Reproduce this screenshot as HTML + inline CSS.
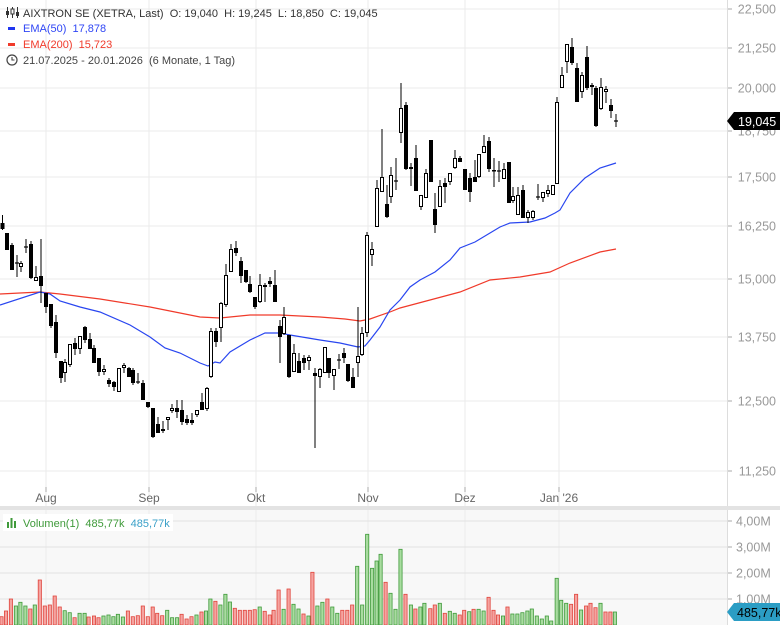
<!DOCTYPE html>
<html><head><meta charset="utf-8"><style>
html,body{margin:0;padding:0;background:#fff;}
body{width:780px;height:625px;overflow:hidden;font-family:"Liberation Sans",sans-serif;}
svg text{font-family:"Liberation Sans",sans-serif;white-space:pre;}
</style></head><body>
<svg id="s" width="780" height="625" xmlns="http://www.w3.org/2000/svg"></svg>
<script>
const S=document.getElementById('s');let h='';
h+='<rect x="0" y="510" width="727" height="115" fill="#f8f8f8"/>';
const ticks=[[22500,9],[21250,48],[20000,88],[18750,131],[17500,177],[16250,226],[15000,279],[13750,337],[12500,401],[11250,471]];
const fmt=v=>(v/1000).toFixed(3).replace('.',',');
ticks.forEach(t=>{h+=`<line x1="0" x2="727" y1="${t[1]}" y2="${t[1]}" stroke="#ebebeb"/>`;h+=`<line x1="727" x2="732" y1="${t[1]}" y2="${t[1]}" stroke="#aaa"/>`;
h+=`<text x="776" y="${t[1]+4.5}" font-size="12.5" fill="#999" text-anchor="end">${fmt(t[0])}</text>`;});
const months=[[46,'Aug'],[149,'Sep'],[256,'Okt'],[368,'Nov'],[465,'Dez'],[559,"Jan '26"]];
months.forEach(m=>{h+=`<line x1="${m[0]}" x2="${m[0]}" y1="0" y2="625" stroke="#ebebeb"/>`;h+=`<line x1="${m[0]}" x2="${m[0]}" y1="487" y2="492" stroke="#aaa"/>`;
h+=`<text x="${m[0]}" y="502" font-size="12" fill="#666" text-anchor="middle">${m[1]}</text>`;});
[[521,'4,00M'],[547,'3,00M'],[573,'2,00M'],[599,'1,00M']].forEach(t=>{h+=`<line x1="0" x2="727" y1="${t[0]}" y2="${t[0]}" stroke="#e2e2e2"/>`;h+=`<line x1="727" x2="732" y1="${t[0]}" y2="${t[0]}" stroke="#aaa"/>`;h+=`<text x="736" y="${t[0]+4.5}" font-size="12.5" fill="#999">${t[1]}</text>`;});
h+='<line x1="727.5" x2="727.5" y1="0" y2="625" stroke="#ddd"/>';
h+='<rect x="0" y="506" width="780" height="4" fill="#e3e3e3"/>';
const b=[[0,305],[40,292],[50,294],[60,301],[80,307],[100,312],[130,325],[150,337],[165,348],[180,353],[200,363],[208,366],[215,362],[220,363],[230,352],[250,340],[265,333],[280,333],[290,335],[320,340],[340,343],[358,347],[365,346],[370,340],[380,327],[390,310],[400,300],[410,287],[420,280],[435,272],[450,260],[460,248],[475,242],[490,233],[500,227],[510,223],[530,222],[545,218],[555,213],[560,210],[570,193],[585,178],[600,168],[616,163]];
const r=[[0,294],[40,292],[60,294],[100,299],[150,307],[200,317],[220,318],[250,315],[280,315],[320,317],[345,319],[360,321],[370,319],[390,312],[400,308],[430,300],[460,292],[490,280],[520,277],[550,272],[570,263],[600,252],[616,249]];
h+=`<polyline fill="none" stroke="#f03a2a" stroke-width="1.2" points="${r.map(p=>p.join(',')).join(' ')}"/>`;
h+=`<polyline fill="none" stroke="#2946f0" stroke-width="1.2" points="${b.map(p=>p.join(',')).join(' ')}"/>`;
const C=`2.5 f 223 229 215 230;7 f 233 250 233 250;12 f 245 270 243 270;17 c 263 263 255 277;21 h 263 267 261 272;26 c 247 247 239 253;31 f 244 278 241 279;36 h 277 281 266 281;41 f 276 286 239 303;46 f 293 307 293 313;51 f 304 326 304 328;56 f 322 353 315 358;61 f 361 378 361 383;65 h 362 373 359 382;70 h 344 365 344 367;75 f 343 349 338 355;80 h 336 349 336 354;85 f 327 340 326 343;90 f 339 349 333 349;94 f 348 363 345 363;99 f 358 372 358 376;104 h 369 372 365 375;109 f 380 384 378 387;114 f 382 387 381 391;119 h 368 392 368 392;124 h 365 368 363 373;129 f 368 377 367 377;133 f 370 383 368 385;138 c 382 382 373 384;143 f 383 400 380 400;148 f 402 407 402 408;153 f 408 437 408 438;158 f 424 433 417 433;163 h 429 431 421 433;168 h 417 420 417 430;172 h 408 411 404 413;177 f 408 412 400 418;182 f 410 422 400 425;187 f 419 423 415 425;192 f 420 423 413 425;197 h 410 415 410 417;202 f 402 410 393 410;207 h 388 409 387 411;211 h 331 377 328 378;216 f 331 342 328 347;221 h 303 328 302 342;226 h 275 305 264 307;231 h 249 272 244 272;236 f 248 253 241 256;241 f 261 276 257 283;246 f 270 282 270 283;250 f 284 292 276 293;255 f 297 307 297 309;260 h 285 302 274 303;265 f 285 287 283 302;270 f 281 284 277 287;275 f 285 302 270 302;280 f 326 337 320 363;284 h 317 334 307 335;289 f 335 377 335 378;294 h 353 372 344 372;299 f 361 373 353 373;304 f 358 363 355 370;309 h 357 361 355 370;315 f 373 376 368 448;320 h 369 377 368 388;325 h 347 373 347 373;329 f 358 373 358 378;334 h 369 376 369 390;339 c 360 360 354 369;344 f 353 358 348 363;348 f 364 381 364 382;353 f 377 388 368 388;358 h 356 363 307 377;362 h 333 355 327 356;367 h 235 333 232 337;372 h 249 255 242 266;377 h 188 227 180 227;382 h 177 192 129 192;387 f 204 217 185 218;391 h 175 197 167 203;396 c 181 181 158 190;401 h 108 133 83 143;406 f 105 169 102 170;411 f 167 169 163 186;416 f 158 191 145 191;421 h 195 207 195 210;426 h 173 198 169 198;431 f 140 182 140 182;435 f 209 225 193 233;440 h 186 207 180 207;445 f 183 187 178 203;450 h 173 182 173 185;455 h 158 168 150 169;460 f 158 162 156 162;465 f 169 190 169 190;470 f 178 192 173 202;475 f 177 182 160 182;479 h 154 177 154 178;484 h 146 153 135 153;489 f 141 169 137 172;494 f 170 171 158 187;499 c 171 171 161 182;504 h 169 179 163 179;509 f 162 203 162 203;513 h 196 201 187 203;518 h 195 215 187 215;523 f 190 218 185 218;528 h 212 218 210 223;533 h 211 218 210 220;538 c 197 197 184 200;543 h 192 198 192 202;548 h 190 194 185 197;553 h 185 195 185 195;557 h 102 184 97 184;562 h 75 88 67 88;567 h 44 62 44 73;572 f 47 63 38 65;577 f 68 102 63 102;582 h 75 92 72 98;587 f 57 88 46 90;592 f 85 87 83 95;596 f 88 126 86 127;601 h 87 109 78 110;606 h 89 92 86 103;611 f 105 111 99 118;616 c 121 121 114 127`;
C.split(';').forEach(s=>{const [x,t,a,c,wa,wb]=s.trim().split(' ');const X=+x,A=+a,B=+c;
h+=`<line x1="${X}" x2="${X}" y1="${wa}" y2="${wb}" stroke="#000" stroke-width="1"/>`;
if(t=='c'){h+=`<line x1="${X-2}" x2="${X+2}" y1="${A}" y2="${A}" stroke="#000" stroke-width="1.2"/>`;}
else if(t=='f'){h+=`<rect x="${X-2}" y="${A}" width="4" height="${Math.max(B-A,1.5)}" fill="#000"/>`;}
else{h+=`<rect x="${X-1.5}" y="${A+0.5}" width="3" height="${Math.max(B-A-1,1)}" fill="#fff" stroke="#000" stroke-width="1"/>`;}});
const V=`3 r 410;12 r 393;22 r 357;32 g 378;41 g 367;51 g 378;61 r 387;70 g 375;80 r 300;90 r 378;100 r 375;110 r 348;120 r 381;130 g 392;140 g 398;150 r 413;160 g 400;170 g 400;178 r 411;189 r 408;198 r 413;208 g 408;218 g 405;228 g 410;237 g 403;247 g 411;257 r 393;267 r 410;277 r 407;287 r 378;297 r 410;307 r 381;316 r 400;326 r 407;336 g 391;346 g 413;356 g 413;365 r 403;375 r 417;385 r 410;395 g 405;405 r 396;414 g 393;423 g 357;433 r 364;443 g 375;453 g 343;462 g 366;472 r 385;482 r 391;492 r 391;502 r 391;512 r 389;522 g 381;532 r 394;542 r 405;550 r 391;560 r 330;570 g 388;580 r 327;590 g 373;600 g 387;610 r 402;620 g 408;628 r 277;638 g 378;648 g 367;658 r 357;668 g 381;678 g 400;688 r 391;698 r 391;708 r 375;718 g 259;728 g 375;738 g 163;748 g 265;757 g 243;765 g 223;775 r 307;785 g 340;795 g 388;805 g 208;815 r 343;826 g 375;835 r 387;845 g 381;853 g 370;865 r 386;874 r 375;884 g 370;894 r 400;904 g 394;914 g 400;924 r 405;933 r 391;943 g 395;952 r 388;962 g 388;972 g 393;982 r 352;992 r 391;1001 r 405;1011 g 408;1020 r 381;1030 g 402;1040 g 402;1050 g 398;1060 g 393;1069 g 387;1079 g 408;1089 g 417;1099 g 408;1108 g 423;1119 g 295;1128 g 361;1138 g 370;1148 r 373;1158 r 343;1168 g 390;1178 r 378;1187 r 370;1197 r 383;1207 g 370;1217 r 396;1227 r 396;1236 g 396`;
V.split(';').forEach(s=>{const [x,c,y]=s.split(' ');const X=+x/2.01,Y=480+(+y)/3;
const col=c=='r'?['#f5a3a0','#e0453c']:['#a9dca0','#3f9a3a'];
h+=`<rect x="${(X-1.6).toFixed(1)}" y="${Y.toFixed(1)}" width="3.2" height="${(625-Y).toFixed(1)}" fill="${col[0]}" stroke="${col[1]}" stroke-width="0.8"/>`;});
h+='<path d="M727 121 L734 112 L780 112 L780 130 L734 130 Z" fill="#000"/><text x="738" y="126" font-size="12.5" fill="#fff">19,045</text>';
h+='<path d="M727 612 L734 603 L780 603 L780 621 L734 621 Z" fill="#2b9dc4"/><text x="737" y="617" font-size="12.5" fill="#000">485,77k</text>';
h+='<g stroke="#333" stroke-width="1"><line x1="7.5" x2="7.5" y1="7" y2="18"/><line x1="12.5" x2="12.5" y1="7" y2="18"/><line x1="17.5" x2="17.5" y1="7" y2="18"/></g><rect x="6" y="11" width="3" height="4" fill="#333"/><rect x="11" y="9" width="3" height="5" fill="#fff" stroke="#333"/><rect x="16" y="12" width="3" height="4" fill="#333"/>';
h+='<text x="23" y="17" font-size="11" fill="#333">AIXTRON SE (XETRA, Last)  O: 19,040  H: 19,245  L: 18,850  C: 19,045</text>';
h+='<rect x="8" y="27" width="7" height="3" fill="#2036f0"/><text x="23" y="32" font-size="11" fill="#2f46f5">EMA(50)  17,878</text>';
h+='<rect x="8" y="43" width="7" height="3" fill="#f03a2a"/><text x="23" y="48" font-size="11" fill="#f03a2a">EMA(200)  15,723</text>';
h+='<circle cx="12" cy="60" r="5" fill="none" stroke="#444" stroke-width="1.2"/><path d="M12 57 V60 H14.5" fill="none" stroke="#444" stroke-width="1.1"/>';
h+='<text x="23" y="64" font-size="11" fill="#444">21.07.2025 - 20.01.2026  (6 Monate, 1 Tag)</text>';
h+='<rect x="3" y="514" width="170" height="17" fill="#fff"/>';
h+='<rect x="7" y="522" width="2" height="6" fill="#3f9a3a"/><rect x="10.5" y="518" width="2" height="10" fill="#3f9a3a"/><rect x="14" y="521" width="2" height="7" fill="#3f9a3a"/>';
h+='<text x="23" y="527" font-size="11" fill="#3f9a3a">Volumen(1)  485,77k  <tspan fill="#3aa0c8">485,77k</tspan></text>';
S.innerHTML=h;
</script>
</body></html>
